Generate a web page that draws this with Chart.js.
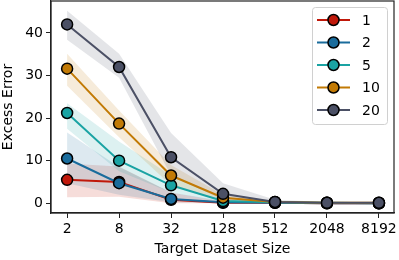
<!DOCTYPE html>
<html>
<head>
<meta charset="utf-8">
<script src="https://cdn.jsdelivr.net/npm/chart.js@4.4.0/dist/chart.umd.min.js"></script>
<style>
  html, body { margin: 0; padding: 0; background: #fff; }
  #wrap { width: 399px; height: 260px; }
</style>
</head>
<body>
<div id="wrap"><canvas id="chart"></canvas></div>
<script>
// dataset sizes (x axis, log2 spaced)
const sizes = [2, 8, 32, 128, 512, 2048, 8192];
const seriesNames = ['1', '2', '5', '10', '20'];
const colors = ['#c0180a', '#1a6c9c', '#1aa3a3', '#c27a05', '#4b5065'];

// mean excess error per series
const mean1 = [5.5, 5.0, 0.8, 0.1, 0.1, 0.0, 0.0];
const mean2 = [10.5, 4.7, 1.0, 0.2, 0.1, 0.0, 0.0];
const mean5 = [21.2, 10.0, 4.2, 0.5, 0.2, 0.1, 0.0];
const mean10 = [31.6, 18.7, 6.5, 1.3, 0.3, 0.1, 0.1];
const mean20 = [42.0, 32.0, 10.8, 2.2, 0.3, 0.1, 0.1];

// shaded band bounds
const low1 = [1.4, 1.5, 0.0, 0.0, 0.0, 0.0, 0.0];
const high1 = [9.3, 8.6, 2.5, 0.3, 0.2, 0.1, 0.1];
const low2 = [4.7, 2.0, 0.2, 0.0, 0.0, 0.0, 0.0];
const high2 = [16.6, 8.5, 2.5, 0.5, 0.2, 0.1, 0.1];
const low5 = [17.5, 7.5, 2.5, 0.2, 0.1, 0.0, 0.0];
const high5 = [23.5, 14.5, 6.5, 1.0, 0.4, 0.2, 0.1];
const low10 = [27.6, 15.5, 4.2, 0.5, 0.1, 0.0, 0.0];
const high10 = [35.1, 21.8, 9.0, 2.0, 0.5, 0.2, 0.2];
const low20 = [38.4, 29.5, 6.5, 0.8, 0.1, 0.0, 0.0];
const high20 = [45.2, 35.1, 16.5, 4.7, 0.8, 0.3, 0.2];

const yTicks = [0, 10, 20, 30, 40];

const means = [mean1, mean2, mean5, mean10, mean20];
const lows = [low1, low2, low5, low10, low20];
const highs = [high1, high2, high5, high10, high20];

function pts(arr) {
  return arr.map((v, i) => ({ x: Math.log2(sizes[i]), y: v }));
}
function alpha(hex, a) {
  const n = parseInt(hex.slice(1), 16);
  return 'rgba(' + (n >> 16) + ',' + ((n >> 8) & 255) + ',' + (n & 255) + ',' + a + ')';
}

const datasets = [];
seriesNames.forEach((name, i) => {
  datasets.push({
    label: 'band', data: pts(lows[i]), borderWidth: 0, pointRadius: 0,
    fill: false, order: 20 - i
  });
  datasets.push({
    label: 'band', data: pts(highs[i]), borderWidth: 0, pointRadius: 0,
    fill: '-1', backgroundColor: alpha(colors[i], 0.15), order: 20 - i
  });
});
seriesNames.forEach((name, i) => {
  datasets.push({
    label: name, data: pts(means[i]),
    borderColor: colors[i], backgroundColor: colors[i],
    borderWidth: 2, pointRadius: 5.5, pointBorderColor: '#000',
    pointBorderWidth: 1.5, fill: false, order: 5 - i
  });
});

// frame + legend box like matplotlib
const framePlugin = {
  id: 'frame',
  afterDraw(chart) {
    const { ctx, chartArea: a } = chart;
    ctx.save();
    ctx.strokeStyle = '#222';
    ctx.lineWidth = 1.2;
    ctx.strokeRect(a.left, a.top, a.right - a.left, a.bottom - a.top);

    const lines = chart.data.datasets.filter(d => d.label !== 'band');
    const x0 = 312, y0 = 7, w = 75, h = 117;
    ctx.fillStyle = 'rgba(255,255,255,0.85)';
    ctx.strokeStyle = '#d0d0d0';
    ctx.lineWidth = 1;
    ctx.beginPath();
    ctx.roundRect(x0 + 0.5, y0 + 0.5, w, h, 3);
    ctx.fill();
    ctx.stroke();
    ctx.font = '14px "DejaVu Sans"';
    ctx.textBaseline = 'middle';
    lines.forEach((d, i) => {
      const y = 20 + i * 22.5;
      ctx.strokeStyle = d.borderColor;
      ctx.lineWidth = 2;
      ctx.beginPath();
      ctx.moveTo(317, y);
      ctx.lineTo(350, y);
      ctx.stroke();
      ctx.beginPath();
      ctx.arc(333.5, y, 5.5, 0, Math.PI * 2);
      ctx.fillStyle = d.backgroundColor;
      ctx.fill();
      ctx.strokeStyle = '#000';
      ctx.lineWidth = 1.5;
      ctx.stroke();
      ctx.fillStyle = '#000';
      ctx.fillText(d.label, 362, y + 1);
    });
    ctx.restore();
  }
};

Chart.defaults.font.family = '"DejaVu Sans", sans-serif';
Chart.defaults.color = '#000';

new Chart(document.getElementById('chart').getContext('2d'), {
  type: 'line',
  data: { datasets: datasets },
  options: {
    responsive: true,
    maintainAspectRatio: false,
    animation: false,
    layout: { autoPadding: false, padding: { top: 1, right: 5, left: 0, bottom: 0 } },
    plugins: {
      legend: { display: false },
      tooltip: { enabled: false }
    },
    scales: {
      x: {
        type: 'linear',
        min: 0.38,
        max: 13.58,
        afterBuildTicks(axis) {
          axis.ticks = sizes.map(s => ({ value: Math.log2(s) }));
        },
        afterFit(axis) {
          axis.height = 47;
          axis.paddingLeft = 0;
          axis.paddingRight = 0;
        },
        ticks: {
          font: { size: 14 },
          padding: 3,
          maxRotation: 0,
          callback: v => String(Math.round(Math.pow(2, v)))
        },
        grid: { drawOnChartArea: false, drawTicks: true, tickLength: 5, color: '#222' },
        border: { display: true, color: '#222', width: 1.2 },
        title: { display: true, text: 'Target Dataset Size', font: { size: 14 }, padding: { top: 1, bottom: 2 } }
      },
      y: {
        min: -2.3,
        max: 47.5,
        afterBuildTicks(axis) {
          axis.ticks = yTicks.map(v => ({ value: v }));
        },
        afterFit(axis) {
          axis.width = 51;
          axis.paddingTop = 0;
          axis.paddingBottom = 0;
        },
        ticks: { font: { size: 14 }, padding: 3 },
        grid: { drawOnChartArea: false, drawTicks: true, tickLength: 5, color: '#222' },
        border: { display: true, color: '#222', width: 1.2 },
        title: { display: true, text: 'Excess Error', font: { size: 14 }, padding: { top: 0, bottom: 2 } }
      }
    }
  },
  plugins: [framePlugin]
});
</script>
</body>
</html>
